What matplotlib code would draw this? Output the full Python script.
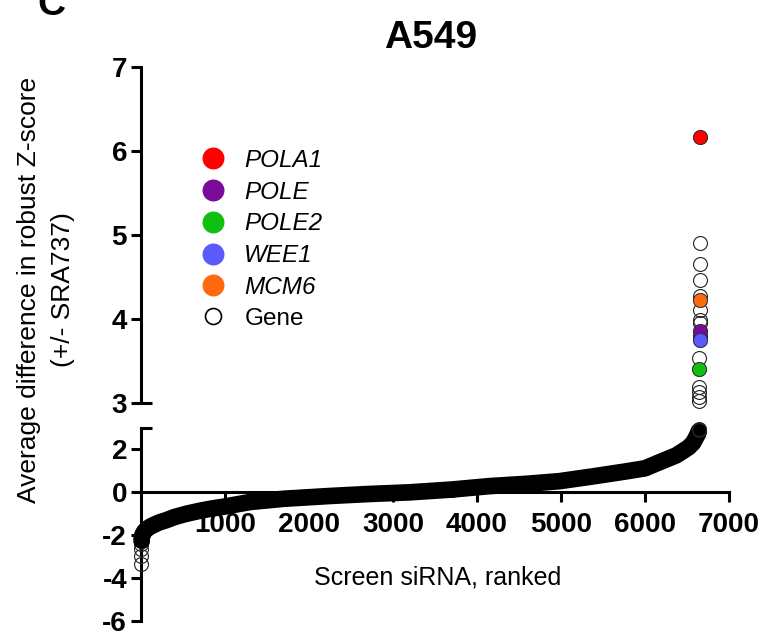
import numpy as np
import matplotlib
matplotlib.use("Agg")
import matplotlib.pyplot as plt
from matplotlib.lines import Line2D
import matplotlib.transforms as mtransforms

plt.rcParams['font.family'] = ['Liberation Sans', 'DejaVu Sans']

# ---------------- data ----------------
# ranked curve of the bulk of siRNAs (rank, value)
band_rank = [6, 10, 20, 40, 70, 110, 150, 220, 300, 400, 540, 700, 850, 1000,
             1300, 1700, 2250, 2700, 3200, 3700, 4150, 4600, 4980, 5375, 5780,
             6000, 6170, 6370, 6450, 6520, 6570, 6600, 6625, 6640]
band_value = [-2.25, -2.1, -1.95, -1.82, -1.7, -1.6, -1.52, -1.4, -1.3, -1.15,
              -1.0, -0.86, -0.75, -0.66, -0.45, -0.3, -0.17, -0.08, 0.0, 0.13,
              0.29, 0.4, 0.52, 0.74, 0.98, 1.12, 1.4, 1.72, 1.92, 2.1, 2.3,
              2.5, 2.7, 2.85]
# lowest-ranked individual siRNAs
low_rank = [1, 2, 3, 4]
low_value = [-3.36, -2.98, -2.66, -2.43]
# highest-ranked individual siRNAs
top_rank = [6641, 6642, 6643, 6644, 6645, 6646, 6647, 6648, 6649, 6650,
            6651, 6652, 6653, 6654, 6655, 6656, 6657, 6658, 6659, 6660]
top_value = [2.9, 2.95, 3.02, 3.07, 3.13, 3.19, 3.41, 3.54, 3.75, 3.80,
             3.86, 3.95, 3.99, 4.11, 4.23, 4.27, 4.46, 4.65, 4.91, 6.17]
# highlighted genes
hit_genes = ['POLA1', 'POLE', 'POLE2', 'WEE1', 'MCM6']
hit_values = [6.17, 3.86, 3.41, 3.75, 4.23]
hit_colors = ['#FF0000', '#7A0A9A', '#10C010', '#5A5AFF', '#FF6A10']

x_ticks = [1000, 2000, 3000, 4000, 5000, 6000, 7000]
upper_ticks = [3, 4, 5, 6, 7]
lower_ticks = [-6, -4, -2, 0, 2]

# ---------------- figure ----------------
W, H = 764, 636
fig = plt.figure(figsize=(W / 100, H / 100), dpi=100)

def fx(px):
    return px / W

def fy(py):
    return 1 - py / H

x0, x1 = 141, 729
ax_up = fig.add_axes([fx(x0), fy(403), (x1 - x0) / W, (403 - 67) / H])
ax_lo = fig.add_axes([fx(x0), fy(621), (x1 - x0) / W, (621 - 428) / H])

LW = 2.2
for ax in (ax_up, ax_lo):
    ax.set_xlim(0, 7000)
    ax.patch.set_alpha(0)
    for s in ('top', 'right'):
        ax.spines[s].set_visible(False)
    ax.spines['left'].set_linewidth(LW)
    ax.tick_params(axis='y', which='major', length=7, width=LW, pad=3,
                   labelsize=20)

ax_up.set_ylim(3, 7)
ax_lo.set_ylim(-6, 3)
ax_up.spines['bottom'].set_visible(False)
ax_up.set_xticks([])
ax_up.set_yticks(upper_ticks)
ax_up.set_yticklabels([str(t) for t in upper_ticks], fontweight='bold', fontsize=20)

ax_lo.set_yticks(lower_ticks)
ax_lo.set_yticklabels([str(t) for t in lower_ticks], fontweight='bold', fontsize=20)
ax_lo.spines['bottom'].set_position(('data', 0))
ax_lo.spines['bottom'].set_linewidth(LW)
ax_lo.spines['bottom'].set_bounds(0, 7000)
ax_lo.set_xticks(x_ticks)
ax_lo.set_xticklabels([str(t) for t in x_ticks], fontweight='bold', fontsize=20)
ax_lo.tick_params(axis='x', length=7, width=LW, pad=7)

# break caps on the axis at value 3
cap = 11 / (x1 - x0)
for ax in (ax_up, ax_lo):
    tr = mtransforms.blended_transform_factory(ax.transAxes, ax.transData)
    ax.add_line(Line2D([0, cap], [3, 3], transform=tr, color='black',
                       lw=LW, clip_on=False, solid_capstyle='butt'))

MS = 10
EDGE = '#222222'

# bulk band (points hidden under the dense stroke of overlapping markers)
ax_lo.plot(band_rank, band_value, 'o', ms=MS, mfc='none', mec=EDGE, mew=0.8,
           zorder=2.9, clip_on=False)
ax_lo.plot(band_rank, band_value, color='black', lw=12,
           solid_capstyle='round', solid_joinstyle='round', zorder=3,
           clip_on=False)
ax_lo.plot(low_rank, low_value, 'o', ms=MS, mfc='none', mec=EDGE, mew=0.8,
           zorder=2.8, clip_on=False)

top_rank_a = np.array(top_rank)
top_value_a = np.array(top_value)
lo_mask = top_value_a < 3
ax_lo.plot(top_rank_a[lo_mask], top_value_a[lo_mask], 'o', ms=MS, mfc='none',
           mec=EDGE, mew=0.8, zorder=4, clip_on=False)
ax_up.plot(top_rank_a[~lo_mask], top_value_a[~lo_mask], 'o', ms=MS, mfc='none',
           mec=EDGE, mew=0.8, zorder=4, clip_on=False)

for g, v, c in zip(hit_genes, hit_values, hit_colors):
    r = top_rank_a[np.argmin(np.abs(top_value_a - v))]
    ax_up.plot([r], [v], 'o', ms=MS, mfc=c, mec='#333333', mew=0.6, zorder=5,
               clip_on=False)

# legend
handles = [Line2D([], [], marker='o', ls='none', ms=15.8, mfc=c, mec=c, mew=0)
           for c in hit_colors]
handles.append(Line2D([], [], marker='o', ls='none', ms=11.5, mfc='white',
                      mec='black', mew=1.2))
labels = hit_genes + ['Gene']
leg = fig.legend(handles, labels, loc='upper left',
                 bbox_to_anchor=(fx(201), fy(149)), bbox_transform=fig.transFigure,
                 frameon=False, fontsize=17.5, handlelength=1.0,
                 handletextpad=0.78, labelspacing=0.36, borderpad=0,
                 borderaxespad=0)
for t in leg.get_texts()[:-1]:
    t.set_fontstyle('italic')

# texts
fig.text(fx(431), fy(48), 'A549', fontsize=28, fontweight='bold',
         ha='center', va='baseline')
fig.text(fx(37), fy(15), 'C', fontsize=28, fontweight='bold',
         ha='left', va='baseline')
fig.text(fx(438), fy(585), 'Screen siRNA, ranked', fontsize=18,
         ha='center', va='baseline')
fig.text(fx(46), fy(290), 'Average difference in robust Z-score\n(+/- SRA737)',
         fontsize=19, rotation=90, ha='center', va='center',
         multialignment='center', linespacing=1.5)

fig.savefig('out.png', dpi=100)
